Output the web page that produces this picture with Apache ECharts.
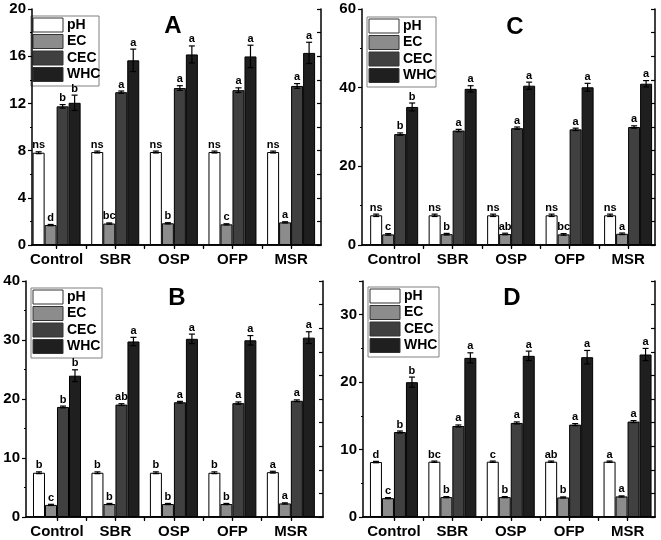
<!DOCTYPE html>
<html>
<head>
<meta charset="utf-8">
<script src="https://cdn.jsdelivr.net/npm/echarts@6/dist/echarts.min.js"></script>
<style>
  html, body { margin: 0; padding: 0; background: #fff; }
  #main { width: 661px; height: 540px; }
</style>
</head>
<body>
<div id="main"></div>
<script>
var categories = ['Control', 'SBR', 'OSP', 'OFP', 'MSR'];
var names = ['pH', 'EC', 'CEC', 'WHC'];
var colors = ['#ffffff', '#8c8c8c', '#404040', '#1f1f1f'];

// panel A
var phA = [7.82, 7.88, 7.88, 7.88, 7.88];
var ecA = [1.69, 1.82, 1.84, 1.75, 1.92];
var cecA = [11.75, 12.95, 13.3, 13.12, 13.48];
var whcA = [12.05, 15.65, 16.15, 15.98, 16.28];
var phErrA = [0.08, 0.08, 0.08, 0.08, 0.08];
var ecErrA = [0.05, 0.05, 0.05, 0.05, 0.05];
var cecErrA = [0.15, 0.1, 0.2, 0.2, 0.2];
var whcErrA = [0.65, 0.95, 0.72, 0.95, 0.9];
var phSigA = ['ns', 'ns', 'ns', 'ns', 'ns'];
var ecSigA = ['d', 'bc', 'b', 'c', 'a'];
var cecSigA = ['b', 'a', 'a', 'a', 'a'];
var whcSigA = ['b', 'a', 'a', 'a', 'a'];

// panel B
var phB = [7.5, 7.5, 7.5, 7.5, 7.6];
var ecB = [2.05, 2.2, 2.2, 2.2, 2.3];
var cecB = [18.65, 19.05, 19.45, 19.3, 19.7];
var whcB = [23.95, 29.75, 30.2, 29.95, 30.4];
var phErrB = [0.15, 0.15, 0.15, 0.15, 0.15];
var ecErrB = [0.1, 0.1, 0.1, 0.1, 0.1];
var cecErrB = [0.15, 0.15, 0.15, 0.2, 0.15];
var whcErrB = [1.0, 0.7, 0.8, 0.8, 1.0];
var phSigB = ['b', 'b', 'b', 'b', 'a'];
var ecSigB = ['c', 'b', 'b', 'b', 'a'];
var cecSigB = ['b', 'ab', 'a', 'a', 'a'];
var whcSigB = ['b', 'a', 'a', 'a', 'a'];

// panel C
var phC = [7.55, 7.55, 7.55, 7.55, 7.55];
var ecC = [2.7, 2.75, 2.8, 2.7, 2.85];
var cecC = [28.2, 29.1, 29.7, 29.4, 30.0];
var whcC = [35.1, 39.7, 40.5, 40.1, 41.0];
var phErrC = [0.3, 0.3, 0.3, 0.3, 0.3];
var ecErrC = [0.2, 0.2, 0.2, 0.2, 0.2];
var cecErrC = [0.3, 0.3, 0.3, 0.3, 0.3];
var whcErrC = [1.0, 0.8, 0.9, 1.0, 0.8];
var phSigC = ['ns', 'ns', 'ns', 'ns', 'ns'];
var ecSigC = ['c', 'b', 'ab', 'bc', 'a'];
var cecSigC = ['b', 'a', 'a', 'a', 'a'];
var whcSigC = ['b', 'a', 'a', 'a', 'a'];

// panel D
var phD = [8.15, 8.2, 8.2, 8.2, 8.2];
var ecD = [2.8, 2.95, 2.95, 2.9, 3.05];
var cecD = [12.6, 13.5, 13.95, 13.7, 14.15];
var whcD = [20.0, 23.6, 23.9, 23.7, 24.1];
var phErrD = [0.1, 0.1, 0.1, 0.1, 0.1];
var ecErrD = [0.08, 0.08, 0.08, 0.08, 0.08];
var cecErrD = [0.15, 0.15, 0.15, 0.15, 0.15];
var whcErrD = [0.75, 0.75, 0.7, 1.0, 0.9];
var phSigD = ['d', 'bc', 'c', 'ab', 'a'];
var ecSigD = ['c', 'b', 'b', 'b', 'a'];
var cecSigD = ['b', 'a', 'a', 'a', 'a'];
var whcSigD = ['b', 'a', 'a', 'a', 'a'];

var yMaxList = [20, 40, 60, 35];
var yStepList = [4, 10, 20, 10];

var FONT = '"Liberation Sans", Arial, sans-serif';

var panels = [
    {label: 'A', grid: {left: 32, top: 9, width: 289, height: 236}, xMin: 0.58, xMax: 5.51,
        legend: [31, 16, 68], title: [173, 26],
        values: [phA, ecA, cecA, whcA], errs: [phErrA, ecErrA, cecErrA, whcErrA], sigs: [phSigA, ecSigA, cecSigA, whcSigA]},
    {label: 'B', grid: {left: 26, top: 281, width: 297, height: 236}, xMin: 0.47, xMax: 5.55,
        legend: [31, 288, 71], title: [177, 298],
        values: [phB, ecB, cecB, whcB], errs: [phErrB, ecErrB, cecErrB, whcErrB], sigs: [phSigB, ecSigB, cecSigB, whcSigB]},
    {label: 'C', grid: {left: 362, top: 9, width: 293, height: 236}, xMin: 0.45, xMax: 5.46,
        legend: [367, 17, 69], title: [515, 27],
        values: [phC, ecC, cecC, whcC], errs: [phErrC, ecErrC, cecErrC, whcErrC], sigs: [phSigC, ecSigC, cecSigC, whcSigC]},
    {label: 'D', grid: {left: 363, top: 281, width: 292, height: 236}, xMin: 0.47, xMax: 5.47,
        legend: [368, 287, 71], title: [512, 298],
        values: [phD, ecD, cecD, whcD], errs: [phErrD, ecErrD, cecErrD, whcErrD], sigs: [phSigD, ecSigD, cecSigD, whcSigD]}
];

var BAR_W = 12;

var grids = [], xAxes = [], yAxes = [], series = [], graphics = [];

panels.forEach(function (p, k) {
    grids.push(p.grid);

    // bottom axis with category names
    xAxes.push({
        type: 'value', gridIndex: k, position: 'bottom', min: p.xMin, max: p.xMax,
        splitLine: {show: false},
        axisLine: {lineStyle: {color: '#000', width: 1.5}},
        axisTick: {inside: false, length: 3, lineStyle: {color: '#000', width: 1.2},
            customValues: [1, 1.5, 2, 2.5, 3, 3.5, 4, 4.5, 5]},
        axisLabel: {customValues: [1, 2, 3, 4, 5], margin: 7,
            formatter: function (v) { return categories[Math.round(v) - 1]; },
            color: '#000', fontWeight: 'bold', fontSize: 15, fontFamily: FONT}
    });
    // top frame
    xAxes.push({
        type: 'value', gridIndex: k, position: 'top', min: p.xMin, max: p.xMax,
        splitLine: {show: false},
        axisLine: {lineStyle: {color: '#000', width: 1.5}},
        axisTick: {inside: true, length: 4, lineStyle: {color: '#000', width: 1.2},
            customValues: [1, 1.5, 2, 2.5, 3, 3.5, 4, 4.5, 5]},
        axisLabel: {show: false}
    });
    // left value axis
    yAxes.push({
        type: 'value', gridIndex: k, position: 'left', min: 0, max: yMaxList[k], interval: yStepList[k],
        splitLine: {show: false},
        axisLine: {show: true, lineStyle: {color: '#000', width: 1.5}},
        axisTick: {show: true, inside: false, length: 4, lineStyle: {color: '#000', width: 1.2}},
        minorTick: {show: true, splitNumber: 2, length: 2, lineStyle: {color: '#000', width: 1}},
        axisLabel: {margin: 6, showMaxLabel: yMaxList[k] % yStepList[k] === 0 ? true : false,
            color: '#000', fontWeight: 'bold', fontSize: 15, fontFamily: FONT}
    });
    // right frame
    yAxes.push({
        type: 'value', gridIndex: k, position: 'right', min: 0, max: 10, interval: 2,
        splitLine: {show: false},
        axisLine: {show: true, lineStyle: {color: '#000', width: 1.5}},
        axisTick: {show: true, inside: true, length: 4, lineStyle: {color: '#000', width: 1.2}},
        minorTick: {show: true, splitNumber: 2, length: 4, lineStyle: {color: '#000', width: 1.2}},
        axisLabel: {show: false}
    });

    names.forEach(function (nm, j) {
        var vals = p.values[j];
        series.push({
            name: nm, type: 'bar', xAxisIndex: 2 * k, yAxisIndex: 2 * k,
            barWidth: BAR_W, barGap: '0%',
            itemStyle: {color: colors[j], borderColor: '#000', borderWidth: 1},
            data: vals.map(function (v, i) { return [i + 1, v]; }),
            z: 2
        });
        var offset = (j - 1.5) * BAR_W;
        var errs = p.errs[j];
        var sigs = p.sigs[j];
        series.push({
            type: 'custom', xAxisIndex: 2 * k, yAxisIndex: 2 * k,
            encode: {x: 0, y: 1},
            z: 5, silent: true,
            data: vals.map(function (v, i) { return [i + 1, v, errs[i]]; }),
            renderItem: function (params, api) {
                var x = api.value(0), y = api.value(1), e = api.value(2);
                var top = api.coord([x, y + e]);
                var bot = api.coord([x, y - e]);
                var cx = top[0] + offset;
                var cap = 3;
                var ls = {stroke: '#000', lineWidth: 1.2};
                return {
                    type: 'group',
                    children: [
                        {type: 'line', shape: {x1: cx, y1: top[1], x2: cx, y2: bot[1]}, style: ls},
                        {type: 'line', shape: {x1: cx - cap, y1: top[1], x2: cx + cap, y2: top[1]}, style: ls},
                        {type: 'line', shape: {x1: cx - cap, y1: bot[1], x2: cx + cap, y2: bot[1]}, style: ls},
                        {type: 'text', x: cx, y: top[1] - 1,
                            style: {text: sigs[params.dataIndex], fill: '#000', font: 'bold 11px ' + FONT,
                                align: 'center', verticalAlign: 'bottom'}}
                    ]
                };
            }
        });
    });

    // legend box drawn by hand so the labels can be bold
    var lx = p.legend[0], ly = p.legend[1], lw = p.legend[2];
    var items = [{
        type: 'rect', shape: {x: lx, y: ly, width: lw, height: 70},
        style: {fill: '#fff', stroke: '#808080', lineWidth: 1}
    }];
    names.forEach(function (nm, j) {
        var sy = ly + 2 + j * 16.5;
        items.push({
            type: 'rect', shape: {x: lx + 2, y: sy, width: 30, height: 14},
            style: {fill: colors[j], stroke: '#333', lineWidth: 1}
        });
        items.push({
            type: 'text', x: lx + 36, y: sy + 7,
            style: {text: nm, fill: '#000', font: 'bold 14px ' + FONT, verticalAlign: 'middle'}
        });
    });
    graphics.push({type: 'group', z: 20, children: items});

    graphics.push({
        type: 'text', x: p.title[0], y: p.title[1], z: 10,
        style: {text: p.label, fill: '#000', font: 'bold 24px ' + FONT, align: 'center', verticalAlign: 'middle'}
    });
});

var chart = echarts.init(document.getElementById('main'), null, {renderer: 'canvas'});
chart.setOption({
    animation: false,
    backgroundColor: '#fff',
    textStyle: {fontFamily: FONT},
    grid: grids,
    xAxis: xAxes,
    yAxis: yAxes,
    series: series,
    graphic: graphics
});
</script>
</body>
</html>
